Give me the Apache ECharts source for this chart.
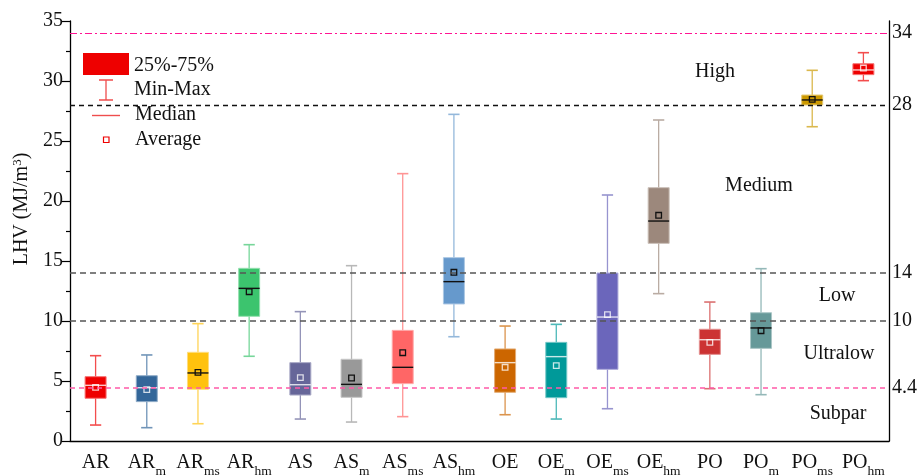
<!DOCTYPE html>
<html>
<head>
<meta charset="utf-8">
<title>LHV by sample group</title>
<script src="https://cdn.jsdelivr.net/npm/echarts@6/dist/echarts.min.js"></script>
<style>
  html, body { margin: 0; padding: 0; background: #fff; }
  #chart { width: 917px; height: 476px; }
</style>
</head>
<body>
<div id="chart"></div>
<script>
// Sample groups (base name + optional subscript after "_")
const categories = ['AR', 'AR_m', 'AR_ms', 'AR_hm', 'AS', 'AS_m', 'AS_ms', 'AS_hm',
                    'OE', 'OE_m', 'OE_ms', 'OE_hm', 'PO', 'PO_m', 'PO_ms', 'PO_hm'];

// LHV statistics per group (MJ/m3)
const minVals    = [1.33, 1.11, 1.44, 7.06, 1.83, 1.58, 2.03, 8.69, 2.19, 1.83, 2.69, 12.28, 4.36, 3.86, 26.19, 30.03];
const q1Vals     = [3.56, 3.28, 4.31, 10.39, 3.83, 3.64, 4.78, 11.42, 4.06, 3.61, 5.97, 16.47, 7.22, 7.72, 28.00, 30.53];
const medianVals = [4.64, 4.44, 5.67, 12.72, 4.69, 4.72, 6.14, 13.28, 6.53, 7.03, 10.33, 18.33, 8.44, 9.42, 28.42, 30.92];
const q3Vals     = [5.36, 5.44, 7.39, 14.39, 6.53, 6.81, 9.22, 15.28, 7.67, 8.22, 14.00, 21.11, 9.31, 10.69, 28.83, 31.44];
const maxVals    = [7.11, 7.17, 9.78, 16.36, 10.78, 14.61, 22.28, 27.22, 9.58, 9.72, 20.50, 26.75, 11.58, 14.36, 30.89, 32.36];
const meanVals   = [4.47, 4.28, 5.72, 12.44, 5.28, 5.25, 7.36, 14.06, 6.14, 6.28, 10.53, 18.81, 8.22, 9.19, 28.47, 31.08];

// Quality class thresholds and the class names between them
const thresholds = [34, 28, 14, 10, 4.4];
const classNames = ['High', 'Medium', 'Low', 'Ultralow', 'Subpar'];

// Left axis tick range
const yMin = 0, yMax = 35, yStep = 5;

// Box fill colours and the ink used for the median line / mean marker
const boxColors = ['#ee0000', '#336699', '#ffc20e', '#3cc46e', '#666699', '#999999', '#ff6666', '#6699cc',
                   '#cc6600', '#009999', '#6b66bb', '#9c887c', '#cc3333', '#669999', '#cc9900', '#ee0000'];
const LIGHT = 'rgba(255,255,255,0.78)', DARK = '#111111';
const markInk = [LIGHT, LIGHT, DARK, DARK, LIGHT, DARK, DARK, DARK,
                 LIGHT, LIGHT, LIGHT, DARK, LIGHT, DARK, DARK, LIGHT];

const FONT = '"Liberation Serif", "Times New Roman", serif';
const FS = 20;

function tint(hex, k) {
  const n = parseInt(hex.slice(1), 16);
  const r = (n >> 16) & 255, g = (n >> 8) & 255, b = n & 255;
  const mix = c => Math.round(c + (255 - c) * k);
  return 'rgb(' + mix(r) + ',' + mix(g) + ',' + mix(b) + ')';
}

const boxData = categories.map((c, i) =>
  [i, minVals[i], q1Vals[i], medianVals[i], q3Vals[i], maxVals[i], meanVals[i]]);

function renderBox(params, api) {
  const i = api.value(0);
  const pMin = api.coord([i, api.value(1)]);
  const pQ1 = api.coord([i, api.value(2)]);
  const pMed = api.coord([i, api.value(3)]);
  const pQ3 = api.coord([i, api.value(4)]);
  const pMax = api.coord([i, api.value(5)]);
  const pMean = api.coord([i, api.value(6)]);
  const band = api.size([1, 0])[0];
  const bw = band * 0.41, cw = band * 0.22;
  const cx = pMin[0];
  const col = boxColors[i], ink = markInk[i];
  const whisk = tint(col, 0.3);
  return {
    type: 'group',
    children: [
      { type: 'line', shape: { x1: cx, y1: pMax[1], x2: cx, y2: pMin[1] }, style: { stroke: whisk, lineWidth: 1.3 } },
      { type: 'line', shape: { x1: cx - cw / 2, y1: pMax[1], x2: cx + cw / 2, y2: pMax[1] }, style: { stroke: whisk, lineWidth: 1.6 } },
      { type: 'line', shape: { x1: cx - cw / 2, y1: pMin[1], x2: cx + cw / 2, y2: pMin[1] }, style: { stroke: whisk, lineWidth: 1.6 } },
      { type: 'rect', shape: { x: cx - bw / 2, y: pQ3[1], width: bw, height: pQ1[1] - pQ3[1] },
        style: { fill: col, stroke: tint(col, 0.45), lineWidth: 1 } },
      { type: 'line', shape: { x1: cx - bw / 2, y1: pMed[1], x2: cx + bw / 2, y2: pMed[1] }, style: { stroke: ink, lineWidth: 1.4 } },
      { type: 'rect', shape: { x: pMean[0] - 2.8, y: pMean[1] - 2.8, width: 5.6, height: 5.6 },
        style: { fill: 'none', stroke: ink, lineWidth: 1.3 } }
    ]
  };
}

const lineStyles = {
  34: { color: '#ff1493', type: [7, 3, 2, 3], width: 1.2 },
  28: { color: '#111111', type: [5, 4], width: 1.3 },
  14: { color: '#555555', type: [6, 4], width: 1.5 },
  10: { color: '#555555', type: [6, 4], width: 1.5 },
  4.4: { color: '#ff5aa8', type: [5, 4], width: 1.5 }
};

const txt = (text, x, y, align) => ({
  type: 'text',
  style: { text: text, x: x, y: y, fill: '#111', font: FS + 'px ' + FONT, align: align || 'left', verticalAlign: 'middle' }
});

// Zone label anchor points (pixel centres)
const classPos = [[715, 72], [759, 186], [837, 296], [839, 354], [838, 414]];

const chart = echarts.init(document.getElementById('chart'), null, { renderer: 'canvas' });
chart.setOption({
  animation: false,
  backgroundColor: '#ffffff',
  grid: { left: 70, right: 28, top: 21, bottom: 35, containLabel: false, outerBoundsMode: 'none' },
  textStyle: { fontFamily: FONT },
  xAxis: {
    type: 'category',
    data: categories,
    boundaryGap: true,
    axisLine: { lineStyle: { color: '#000', width: 1.3 } },
    axisTick: { alignWithLabel: true, length: 6, lineStyle: { color: '#000', width: 1.2 } },
    axisLabel: {
      margin: 12,
      interval: 0,
      formatter: v => {
        const p = v.split('_');
        return p.length > 1 ? '{b|' + p[0] + '}{s|' + p[1] + '}' : '{b|' + p[0] + '}';
      },
      rich: {
        b: { fontFamily: FONT, fontSize: FS, lineHeight: 20, verticalAlign: 'top', color: '#111' },
        s: { fontFamily: FONT, fontSize: 13.5, lineHeight: 25, verticalAlign: 'bottom', color: '#111' }
      }
    }
  },
  yAxis: [
    {
      type: 'value', min: yMin, max: yMax, interval: yStep,
      name: '{a|LHV (MJ/m}{p|3}{a|)}',
      nameLocation: 'middle', nameGap: 36, nameRotate: 90,
      nameTextStyle: {
        padding: [0, 0, 0, 44],
        rich: {
          a: { fontFamily: FONT, fontSize: FS, lineHeight: 22, verticalAlign: 'middle', color: '#111' },
          p: { fontFamily: FONT, fontSize: 13, lineHeight: 14, verticalAlign: 'top', color: '#111' }
        }
      },
      axisLine: { show: true, lineStyle: { color: '#000', width: 1.3 } },
      axisTick: { show: true, length: 8, lineStyle: { color: '#000', width: 1.2 } },
      minorTick: { show: true, splitNumber: 2, length: 4, lineStyle: { color: '#000', width: 1.2 } },
      axisLabel: { margin: 7, fontFamily: FONT, fontSize: FS, color: '#111' },
      splitLine: { show: false }
    },
    {
      type: 'value', min: yMin, max: yMax, position: 'right',
      axisLine: { show: true, lineStyle: { color: '#000', width: 1.3 } },
      axisTick: { show: false, customValues: thresholds },
      axisLabel: { margin: 3, fontFamily: FONT, fontSize: FS, color: '#111', customValues: thresholds, formatter: v => String(v) },
      splitLine: { show: false }
    }
  ],
  series: [
    {
      type: 'line',
      data: [],
      z: 1,
      silent: true,
      markLine: {
        silent: true,
        symbol: 'none',
        label: { show: false },
        data: thresholds.map(t => ({ yAxis: t, lineStyle: lineStyles[t] }))
      }
    },
    {
      type: 'custom',
      z: 3,
      renderItem: renderBox,
      encode: { x: 0, y: [1, 2, 3, 4, 5, 6] },
      data: boxData
    }
  ],
  graphic: [
    // legend
    { type: 'rect', shape: { x: 83, y: 53, width: 46, height: 22 }, style: { fill: '#ee0000' } },
    txt('25%-75%', 134, 66),
    { type: 'line', shape: { x1: 106, y1: 80, x2: 106, y2: 100 }, style: { stroke: '#ef4d4d', lineWidth: 1.3 } },
    { type: 'line', shape: { x1: 99, y1: 80, x2: 113, y2: 80 }, style: { stroke: '#ef4d4d', lineWidth: 1.5 } },
    { type: 'line', shape: { x1: 99, y1: 100, x2: 113, y2: 100 }, style: { stroke: '#ef4d4d', lineWidth: 1.5 } },
    txt('Min-Max', 134, 90),
    { type: 'line', shape: { x1: 92, y1: 115.5, x2: 120, y2: 115.5 }, style: { stroke: '#ef4d4d', lineWidth: 1.4 } },
    txt('Median', 135, 115),
    { type: 'rect', shape: { x: 103.5, y: 137, width: 5.5, height: 5.5 }, style: { fill: 'none', stroke: '#ee0000', lineWidth: 1.2 } },
    txt('Average', 135, 140)
  ].concat(classNames.map((n, i) => txt(n, classPos[i][0], classPos[i][1], 'center')))
});
</script>
</body>
</html>
